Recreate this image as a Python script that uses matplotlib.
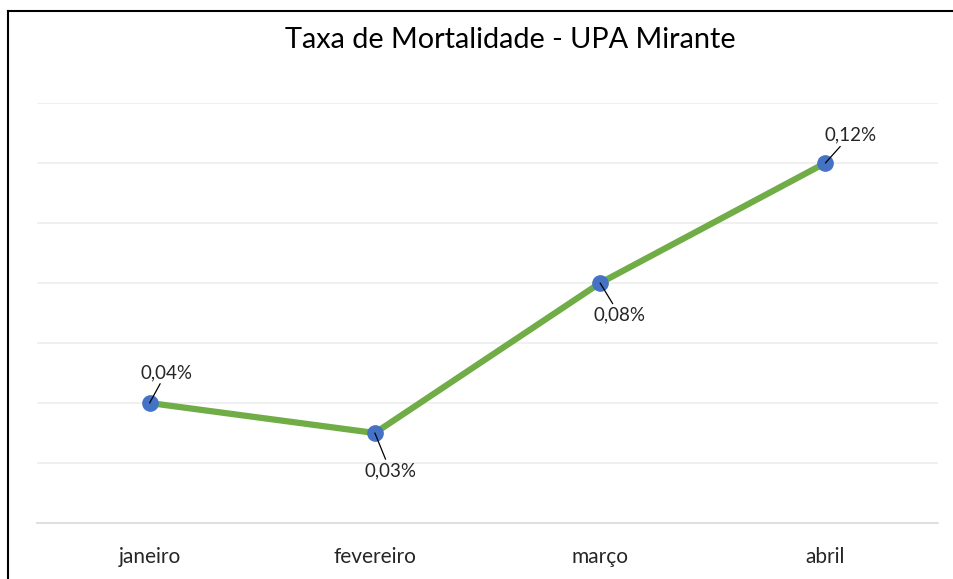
import matplotlib.pyplot as plt
from matplotlib.lines import Line2D

meses = ['janeiro', 'fevereiro', 'março', 'abril']
taxa = [0.04, 0.03, 0.08, 0.12]  # em %
rotulos = ['0,04%', '0,03%', '0,08%', '0,12%']
desloc = [(12, 22), (11, -27), (14, -23), (18, 20)]  # posicao dos rotulos (pt)

plt.rcParams['font.family'] = ['Lato', 'DejaVu Sans']

fig = plt.figure(figsize=(9.54, 5.79), dpi=100)
ax = fig.add_axes([37/954, 1-523/579, 901/954, 420/579])

x = range(len(meses))
ax.plot(x, taxa, color='#70AD47', lw=4.5, solid_capstyle='round', zorder=2)
ax.plot(x, taxa, 'o', color='#4472C4', ms=11, zorder=3)

for i, (v, r, d) in enumerate(zip(taxa, rotulos, desloc)):
    ax.annotate(r, (i, v), xytext=d, textcoords='offset points', ha='center', va='center',
                fontsize=13.5, color='#262626',
                arrowprops=dict(arrowstyle='-', color='black', lw=0.9, shrinkA=0, shrinkB=0))

ax.set_xlim(-0.5, 3.5)
ax.set_ylim(0, 0.14)
ax.set_yticks([0.02*k for k in range(1, 8)])
ax.yaxis.grid(True, color='#EDEDED', lw=1.2)
ax.set_axisbelow(True)
ax.tick_params(axis='y', left=False, labelleft=False)
ax.tick_params(axis='x', length=0, labelsize=15, pad=17, colors='#262626')
ax.set_xticks(list(x))
ax.set_xticklabels(meses)
for s in ['top', 'right', 'left']:
    ax.spines[s].set_visible(False)
ax.spines['bottom'].set_color('#D9D9D9')
ax.spines['bottom'].set_linewidth(1.2)

# titulo centrado no grafico original (mais largo que o recorte)
fig.text(510/954, 1-40/579, 'Taxa de Mortalidade - UPA Mirante', ha='center', va='center',
         fontsize=20.8, color='black')

# moldura (so topo e esquerda aparecem no recorte)
fig.add_artist(Line2D([8/954, 1], [1-11/579, 1-11/579], color='black', lw=1.5))
fig.add_artist(Line2D([8/954, 8/954], [0, 1-11/579], color='black', lw=1.5))

fig.savefig('out.png', dpi=100)
